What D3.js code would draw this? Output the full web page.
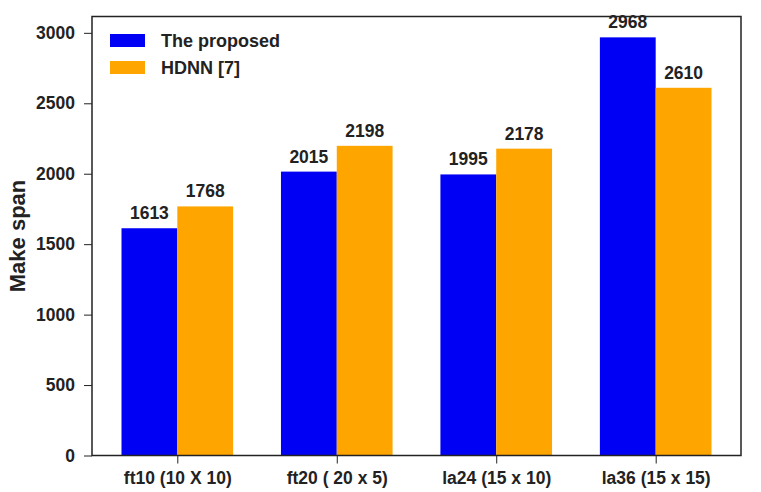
<!DOCTYPE html>
<html>
<head>
<meta charset="utf-8">
<script src="https://cdn.jsdelivr.net/npm/d3@7"></script>
<style>
  body { margin: 0; background: #fff; }
  text { font-family: "Liberation Sans", Arial, sans-serif; font-weight: bold; fill: #222; }
</style>
</head>
<body>
<div id="chart"></div>
<script>
// chart data
var categories = ['ft10 (10 X 10)', 'ft20 ( 20 x 5)', 'la24 (15 x 10)', 'la36 (15 x 15)'];
var seriesNames = ['The proposed', 'HDNN [7]'];
var proposed = [1613, 2015, 1995, 2968];
var hdnn = [1768, 2198, 2178, 2610];
var yTicks = [0, 500, 1000, 1500, 2000, 2500, 3000];
var colors = ['#0000f5', '#ffa500'];

var width = 761, height = 492;
var margin = {top: 16.5, right: 20, bottom: 36.5, left: 92};

var svg = d3.select('#chart').append('svg')
	.attr('width', width)
	.attr('height', height);

// x: category index, bars are 0.35 wide each side of center
var x = d3.scaleLinear()
	.domain([-0.535, 3.535])
	.range([margin.left, width - margin.right]);

var y = d3.scaleLinear()
	.domain([0, 3116])
	.range([height - margin.bottom, margin.top]);

var barW = 0.35;
var series = [proposed, hdnn];

series.forEach(function (vals, s) {
	svg.selectAll('rect.s' + s)
		.data(vals)
		.enter()
		.append('rect')
		.attr('class', 's' + s)
		.attr('x', function (d, i) { return x(i + (s === 0 ? -barW : 0)); })
		.attr('width', x(barW) - x(0))
		.attr('y', function (d) { return y(d); })
		.attr('height', function (d) { return y(0) - y(d); })
		.style('fill', colors[s]);

	svg.selectAll('text.v' + s)
		.data(vals)
		.enter()
		.append('text')
		.attr('class', 'v' + s)
		.attr('x', function (d, i) { return x(i + (s === 0 ? -barW / 2 : barW / 2)); })
		.attr('y', function (d) { return y(d) - 9; })
		.attr('text-anchor', 'middle')
		.style('font-size', '17.5px')
		.text(function (d) { return d; });
});

// frame
svg.append('rect')
	.attr('x', margin.left)
	.attr('y', margin.top)
	.attr('width', width - margin.left - margin.right)
	.attr('height', height - margin.top - margin.bottom)
	.style('fill', 'none')
	.style('stroke', '#222')
	.style('stroke-width', 1.5);

// axes
var yAxis = svg.append('g')
	.attr('transform', 'translate(' + margin.left + ',0)')
	.call(d3.axisLeft(y).tickValues(yTicks).tickSize(8).tickPadding(9)
		.tickFormat(d3.format('d')));

var xAxis = svg.append('g')
	.attr('transform', 'translate(0,' + (height - margin.bottom) + ')')
	.call(d3.axisBottom(x).tickValues([0, 1, 2, 3]).tickSize(8).tickPadding(8)
		.tickFormat(function (d) { return categories[d]; }));

[yAxis, xAxis].forEach(function (g) {
	g.select('.domain').remove();
	g.selectAll('line').style('stroke', '#222').style('stroke-width', 1);
	g.selectAll('text').style('font-size', '17.5px').style('fill', '#222')
		.style('font-family', '"Liberation Sans", Arial, sans-serif');
});

svg.append('text')
	.attr('transform', 'translate(25,' + (margin.top + (height - margin.top - margin.bottom) / 2) + ') rotate(-90)')
	.attr('text-anchor', 'middle')
	.style('font-size', '22px')
	.text('Make span');

// legend
var legend = svg.selectAll('g.legend')
	.data(seriesNames)
	.enter()
	.append('g')
	.attr('class', 'legend')
	.attr('transform', function (d, i) { return 'translate(110,' + (34 + i * 27) + ')'; });

legend.append('rect')
	.attr('width', 35)
	.attr('height', 13)
	.style('fill', function (d, i) { return colors[i]; });

legend.append('text')
	.attr('x', 51)
	.attr('y', 13)
	.style('font-size', '18px')
	.text(function (d) { return d; });
</script>
</body>
</html>
